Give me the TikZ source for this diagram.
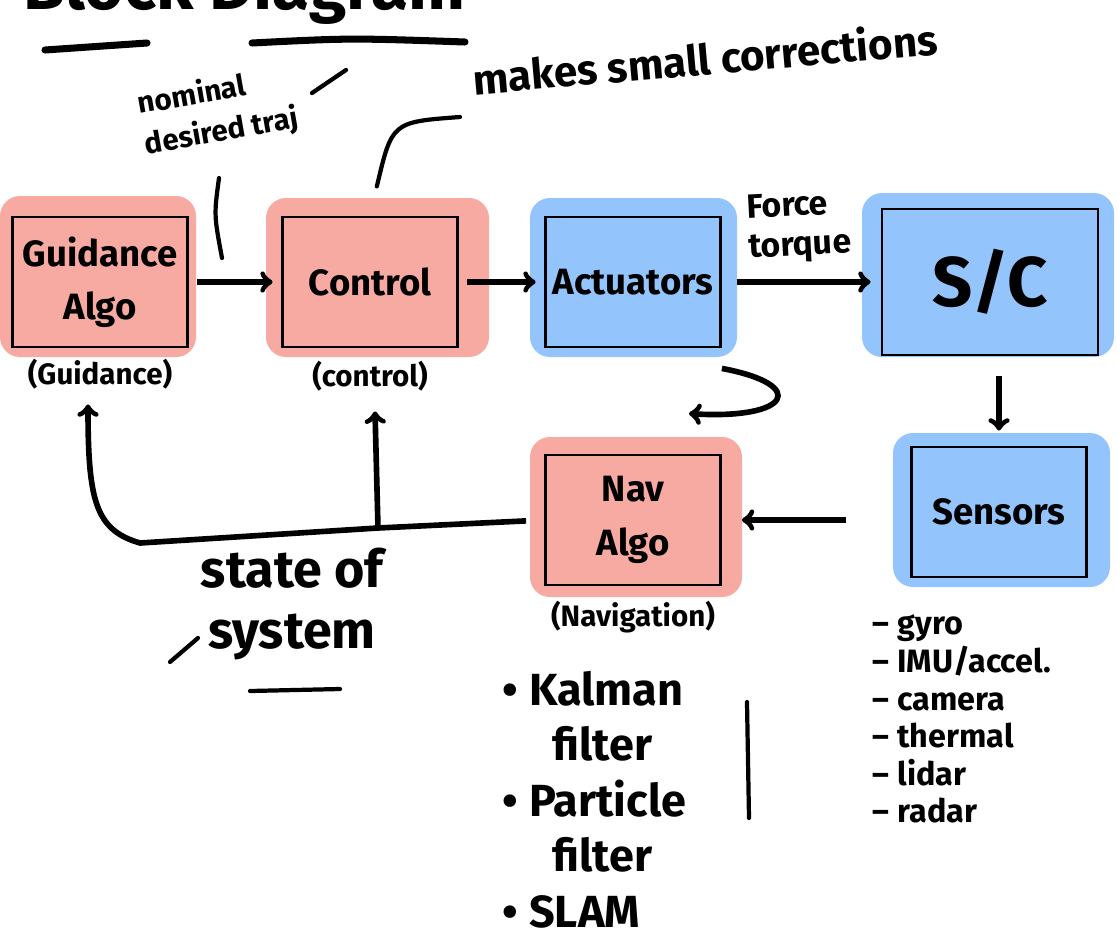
\documentclass[tikz,border=0pt]{standalone}
\usepackage{fontspec}
\setmainfont{Fira Sans}
\usetikzlibrary{arrows}
\usetikzlibrary{positioning}
\definecolor{hlpink}{RGB}{247,170,162}
\definecolor{hlblue}{RGB}{148,196,252}
\tikzstyle{block}=[rectangle,draw=black,line width=2pt,minimum width=4.375cm,minimum height=3.25cm,inner sep=0pt,align=center,font=\fontsize{26}{38}\selectfont\bfseries]
\tikzstyle{bigblock}=[block,minimum width=5.4cm,minimum height=3.65cm,font=\fontsize{50}{56}\selectfont\bfseries]
\tikzstyle{pinkmark}=[fill=hlpink,rounded corners=0.5cm]
\tikzstyle{bluemark}=[fill=hlblue,rounded corners=0.5cm]
\tikzstyle{edge} = [draw,line width=4pt,->,shorten >=6pt,shorten <=6pt]
\tikzstyle{sublabel} = [font=\fontsize{21}{24}\selectfont\bfseries]
\tikzstyle{note} = [font=\fontsize{24}{28}\selectfont\bfseries]
\tikzstyle{stroke} = [draw,line width=3pt,line cap=round]

\begin{document}
\begin{tikzpicture}[x=0.025cm,y=-0.025cm]
    \useasboundingbox (0,0) rectangle (1117,942);

% Title (cut at the top)
    \node[anchor=base east,font=\fontsize{48}{50}\selectfont\bfseries] (title) at (470,9) {Block Diagram};
    \path[stroke,line width=5pt] (45,50) -- (147,43);
    \path[stroke,line width=5pt] (252,43) .. controls (350,38) .. (465,42);

% Marker highlights
    \foreach \a/\b in {{(0,196)/(196,357)}, {(266,198)/(489,357)}, {(530,437)/(742,597)}}
        \fill[pinkmark] \a rectangle \b;
    \foreach \a/\b in {{(530,198)/(737,357)}, {(862,193)/(1114,357)}, {(893,433)/(1110,587)}}
        \fill[bluemark] \a rectangle \b;

% Blocks
    \foreach \pos/\name/\txt in {{(100,282)/guid/{Guidance\\Algo}}, {(370,282)/ctrl/Control}, {(633,282)/act/Actuators}, {(999,512)/sens/Sensors}, {(633,520)/nav/{Nav\\Algo}}}
        \node[block] (\name) at \pos {\txt};
    \node[bigblock] (sc) at (990,282) {S/C};

% Block labels
    \node[sublabel, below=0.15cm of guid] (guidlbl) {(Guidance)};
    \node[sublabel, below=0.2cm of ctrl] (ctrllbl) {(control)};
    \node[sublabel, below=0.25cm of nav] (navlbl) {(Navigation)};

% Forward path
    \path[edge] (guid) -- (ctrl);
    \path[edge] (ctrl) -- (act);
    \path[edge, shorten <=0.375cm, shorten >=0.25cm] (act) -- node[note, above=0.3cm, align=left, rotate=3] (ft) {Force\\torque} (sc);
    \path[edge, shorten <=0.5cm, shorten >=0.375cm] (sens.north |- sc.south) -- (sens.north);
    \path[edge, shorten <=1.6cm, shorten >=0.5cm] (sens.west |- nav.east) -- (nav.east);
    \path[edge, shorten <=0pt, shorten >=0pt] ([yshift=-0.5cm]act.south east) .. controls (810,385) and (790,420) .. ([xshift=1.4cm,yshift=1cm]nav.north);

% Feedback of the state
    \coordinate (split) at (378,528);
    \path[edge, shorten <=0.45cm, shorten >=0pt] (nav.west) -- (split) -- (140,543) .. controls (95,530) and (88,500) .. ([xshift=-0.3cm,yshift=-1.4cm]guid.south);
    \path[edge, shorten <=0pt, shorten >=0pt] (split) -- ([xshift=0.125cm,yshift=-1.575cm]ctrl.south);
    \node[note, font=\fontsize{37}{44}\selectfont\bfseries, align=center] (state) at (292,604) {state of\\system};
    \path[stroke] (170,662) -- (198,638);
    \path[stroke] (250,691) -- (340,689);

% Notes
    \node[note, rotate=10, align=left, font=\fontsize{21}{29}\selectfont\bfseries] (nomtraj) at (218,112) {nominal\\desired traj};
    \path[stroke] (312,93) -- (346,70);
    \path[stroke] (219,178) .. controls (214,215) .. (222,258);
    \node[note, rotate=5, font=\fontsize{30}{34}\selectfont\bfseries] (corr) at (705,58) {makes small corrections};
    \coordinate (corrtip) at (460,117);
    \path[stroke, shorten <=0.75cm] (ctrl.north) .. controls (392,122) .. (corrtip);

% Estimators
    \node[note, anchor=north west, align=left, font=\fontsize{32}{39.5}\selectfont\bfseries] (est) at (498,666) {\textbullet\ Kalman\\\hspace*{1.1em}filter\\\textbullet\ Particle\\\hspace*{1.1em}filter\\\textbullet\ SLAM};
    \path[stroke] (747,702) -- (749,818);

% Sensor types
    \node[note, anchor=north west, align=left, font=\fontsize{23}{26.7}\selectfont\bfseries] (senslist) at (868,610) {-- gyro\\-- IMU/accel.\\-- camera\\-- thermal\\-- lidar\\-- radar};

\end{tikzpicture}
\end{document}
